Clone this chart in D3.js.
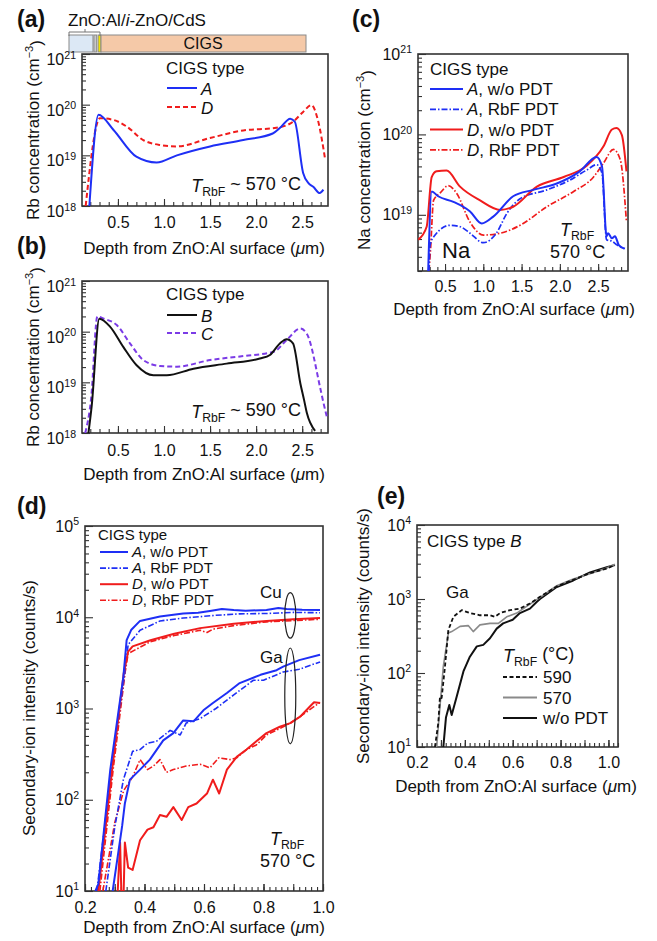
<!DOCTYPE html>
<html>
<head>
<meta charset="utf-8">
<script src="https://cdn.jsdelivr.net/npm/d3@7"></script>
<style>
  body { margin: 0; background: #fff; }
  svg text { font-family: "Liberation Sans", Arial, sans-serif; fill: #111; }
</style>
</head>
<body>
<script>
// ---------- data (depth in um, value) ----------
// (a) Rb concentration, T_RbF ~ 570 C
var rbTypeA = [[0.19,1.0e18],[0.29,6.3e19],[0.45,3.2e19],[0.70,9.4e18],[0.92,7.2e18],[1.14,1.0e19],[1.50,1.5e19],[1.86,2.0e19],[2.18,2.7e19],[2.26,3.5e19],[2.37,5.3e19],[2.42,4.6e19],[2.51,4.5e18],[2.57,2.8e18],[2.62,2.4e18],[2.69,1.8e18],[2.73,2.1e18]];
var rbTypeD = [[0.15,1.0e18],[0.305,5.4e19],[0.45,5.0e19],[0.595,3.7e19],[0.775,2.0e19],[0.957,1.6e19],[1.14,1.5e19],[1.50,2.2e19],[1.86,3.1e19],[2.22,3.5e19],[2.40,4.6e19],[2.51,7.2e19],[2.60,9.8e19],[2.67,5.0e19],[2.75,8.1e18]];
// (b) Rb concentration, T_RbF ~ 590 C
var rbTypeB = [[0.18,1.0e18],[0.215,3.4e18],[0.298,1.8e20],[0.414,1.26e20],[0.558,5.0e19],[0.70,2.2e19],[0.885,1.38e19],[1.03,1.38e19],[1.32,1.86e19],[1.68,2.34e19],[2.04,2.95e19],[2.15,3.47e19],[2.26,5.9e19],[2.33,7.1e19],[2.40,5.9e19],[2.48,9.5e18],[2.52,4.5e18],[2.55,2.5e18],[2.64,1.1e18]];
var rbTypeC = [[0.145,1.0e18],[0.21,5.0e18],[0.277,2.0e20],[0.34,1.82e20],[0.487,1.35e20],[0.63,5.9e19],[0.776,2.75e19],[0.957,2.1e19],[1.14,2.04e19],[1.50,2.75e19],[1.86,3.3e19],[2.19,4.0e19],[2.33,6.8e19],[2.48,1.15e20],[2.55,9.1e19],[2.70,7.1e18],[2.73,4.0e18],[2.77,2.0e18]];
// (c) Na concentration
var naAwo = [[0.28,2.0e18],[0.326,1.95e19],[0.41,1.7e19],[0.61,1.45e19],[0.827,1.1e19],[0.98,7.8e18],[1.13,9.5e18],[1.39,1.7e19],[1.65,2.04e19],[1.96,2.45e19],[2.26,3.47e19],[2.48,5.25e19],[2.55,4.0e19],[2.61,5.4e18],[2.63,5.9e18],[2.68,5.1e18],[2.72,5.4e18],[2.77,4.2e18],[2.84,3.8e18]];
var naArbf = [[0.29,2.0e18],[0.304,4.2e18],[0.37,5.6e18],[0.565,7.4e18],[0.70,7.1e18],[0.827,5.9e18],[1.0,4.5e18],[1.17,5.9e18],[1.31,1.05e19],[1.48,1.58e19],[1.83,2.04e19],[2.13,2.7e19],[2.35,3.6e19],[2.48,4.2e19],[2.55,3.3e19],[2.61,4.9e18],[2.68,4.7e18],[2.75,4.2e18],[2.85,3.8e18]];
var naDwo = [[0.15,4.9e18],[0.26,7.1e18],[0.326,2.95e19],[0.39,3.47e19],[0.52,3.55e19],[0.696,2.24e19],[0.958,1.51e19],[1.22,1.15e19],[1.39,1.26e19],[1.70,2.24e19],[2.05,2.95e19],[2.35,4.07e19],[2.57,7.1e19],[2.68,1.15e20],[2.74,1.2e20],[2.81,9.8e19],[2.87,3.47e19]];
var naDrbf = [[0.29,2.0e18],[0.31,3.6e18],[0.35,1.51e19],[0.435,1.86e19],[0.543,2.3e19],[0.65,1.86e19],[0.827,8.1e18],[1.0,5.6e18],[1.22,5.9e18],[1.48,7.4e18],[1.83,1.26e19],[2.18,1.95e19],[2.44,2.95e19],[2.57,4.4e19],[2.70,6.5e19],[2.79,4.8e19],[2.87,8.1e18]];
// (d) secondary-ion intensity, Cu and Ga
var cuAwo = [[0.235,10],[0.245,12],[0.285,214],[0.329,2240],[0.34,5620],[0.355,7240],[0.385,9120],[0.452,10200],[0.53,11000],[0.58,11200],[0.62,11700],[0.66,12300],[0.70,12000],[0.74,11800],[0.81,12000],[0.85,12600],[0.878,12300],[0.93,12100],[0.99,12000]];
var cuArbf = [[0.24,10],[0.29,230],[0.334,2500],[0.345,5000],[0.385,7200],[0.452,9100],[0.53,9800],[0.64,10500],[0.72,10900],[0.81,11000],[0.90,11300],[0.99,11200]];
var cuDwo = [[0.245,10],[0.29,200],[0.33,2400],[0.345,4200],[0.36,4800],[0.42,5600],[0.50,6600],[0.587,7600],[0.70,8500],[0.81,9100],[0.90,9500],[0.99,9800]];
var cuDrbf = [[0.25,10],[0.295,220],[0.335,2500],[0.345,4000],[0.42,5400],[0.50,6300],[0.587,7200],[0.61,6800],[0.63,7400],[0.70,8100],[0.81,8900],[0.99,9500]];
var gaAwo = [[0.293,10],[0.31,24],[0.325,52],[0.334,91],[0.351,166],[0.385,214],[0.418,275],[0.463,447],[0.497,537],[0.53,741],[0.565,724],[0.598,955],[0.63,1150],[0.677,1480],[0.72,1900],[0.79,2340],[0.844,2630],[0.866,2880],[0.92,3390],[0.99,3890]];
var gaArbf = [[0.27,10],[0.30,50],[0.329,166],[0.36,339],[0.385,355],[0.41,417],[0.44,437],[0.486,575],[0.52,513],[0.54,692],[0.587,776],[0.64,1000],[0.70,1410],[0.766,2040],[0.80,2040],[0.866,2510],[0.92,2690],[0.99,3240]];
var gaDwo = [[0.31,10],[0.318,34],[0.322,10],[0.33,10],[0.334,34],[0.345,18],[0.36,17],[0.385,36],[0.41,47],[0.43,50],[0.452,68],[0.474,65],[0.497,83],[0.525,60],[0.547,83],[0.575,91],[0.61,117],[0.63,166],[0.651,117],[0.677,214],[0.71,295],[0.743,355],[0.776,437],[0.81,537],[0.855,631],[0.89,692],[0.923,813],[0.956,1050],[0.97,1170],[0.99,1150]];
var gaDrbf = [[0.26,10],[0.30,56],[0.33,126],[0.36,178],[0.385,275],[0.41,214],[0.43,234],[0.452,275],[0.474,200],[0.497,214],[0.54,234],[0.587,245],[0.62,224],[0.65,288],[0.69,275],[0.71,288],[0.743,355],[0.776,398],[0.81,513],[0.855,603],[0.89,692],[0.923,813],[0.99,1170]];
// (e) Ga, CIGS type B
var gaB590 = [[0.275,10],[0.289,21],[0.296,48],[0.303,46],[0.317,123],[0.331,380],[0.352,575],[0.387,708],[0.421,646],[0.463,603],[0.505,603],[0.526,575],[0.547,646],[0.589,708],[0.63,741],[0.672,871],[0.714,1070],[0.784,1480],[0.853,1820],[0.923,2240],[0.993,2570],[1.027,2880]];
var gaB570 = [[0.282,10],[0.296,35],[0.31,123],[0.331,347],[0.345,363],[0.38,427],[0.414,437],[0.435,363],[0.463,447],[0.505,468],[0.54,468],[0.575,575],[0.617,646],[0.658,794],[0.714,1050],[0.784,1510],[0.853,1860],[0.923,2190],[0.993,2630],[1.027,2950]];
var gaBwo = [[0.31,10],[0.321,25],[0.335,37],[0.345,27],[0.366,48],[0.394,105],[0.421,166],[0.45,229],[0.477,240],[0.505,295],[0.533,398],[0.56,468],[0.60,525],[0.63,646],[0.672,741],[0.70,912],[0.714,1000],[0.784,1450],[0.853,1780],[0.923,2290],[0.993,2690],[1.027,2880]];

// tick labels
var xLabelsLong = [0.5, 1.0, 1.5, 2.0, 2.5];
var xLabelsShort = [0.2, 0.4, 0.6, 0.8, 1.0];
// layer stack drawn over panel (a): [start, end, fill]
var layers = [[0, 0.26, "#dce8f5"], [0.27, 0.30, "#c9c9c9"], [0.315, 0.347, "#f2e400"], [0.347, 2.57, "#f5c9a8"]];

// ---------- styles ----------
var BLUE = "#1e2ff5", RED = "#f01c1c", PURPLE = "#7b3be6", GRAY = "#8a8a8a";
var DASH = "5,3", DASHDOT = "6,2,1.5,2";

var svg = d3.select("body").append("svg").attr("width", 657).attr("height", 941);

function panel(o) {
  var x = d3.scaleLinear().domain(o.xDomain).range(o.xRange);
  var y = d3.scaleLog().domain(o.yDomain).range(o.yRange);
  var g = svg.append("g");

  svg.append("clipPath").attr("id", "clip" + o.name).append("rect")
    .attr("x", o.xRange[0]).attr("y", o.yRange[1])
    .attr("width", o.xRange[1] - o.xRange[0]).attr("height", o.yRange[0] - o.yRange[1]);

  // log minor/major ticks on the left, pointing inward
  var lo = Math.log10(o.yDomain[0]), hi = Math.log10(o.yDomain[1]);
  var majors = d3.range(Math.ceil(lo - 1e-9), Math.floor(hi + 1e-9) + 1).map(function(e) { return Math.pow(10, e); });
  var minors = [];
  for (var e = Math.floor(lo); e < hi; e++) {
    for (var k = 2; k < 10; k++) {
      var v = k * Math.pow(10, e);
      if (v >= o.yDomain[0] * 0.999 && v <= o.yDomain[1]) minors.push(v);
    }
  }
  g.append("g").attr("transform", "translate(" + o.xRange[0] + ",0)")
    .call(d3.axisLeft(y).tickValues(minors).tickSize(-4).tickFormat(""));
  var yAx = g.append("g").attr("transform", "translate(" + o.xRange[0] + ",0)")
    .call(d3.axisLeft(y).tickValues(majors).tickSize(-8).tickPadding(6));
  yAx.attr("font-size", o.fs).attr("font-family", null);
  yAx.selectAll(".tick text").each(function(d) {
    var t = d3.select(this);
    t.text(null).attr("dy", o.yLabDy || "0.32em");
    t.append("tspan").text("10");
    t.append("tspan").attr("dy", "-0.6em").attr("font-size", "0.66em").text(Math.round(Math.log10(d)));
  });

  // x ticks
  g.append("g").attr("transform", "translate(0," + o.yRange[0] + ")")
    .call(d3.axisBottom(x).tickValues(o.xMinor).tickSize(-4).tickFormat(""));
  if (o.xMid) {
    g.append("g").attr("transform", "translate(0," + o.yRange[0] + ")")
      .call(d3.axisBottom(x).tickValues(o.xMid).tickSize(-7).tickFormat(""));
  }
  var xAx = g.append("g").attr("transform", "translate(0," + o.yRange[0] + ")")
    .call(d3.axisBottom(x).tickValues(o.xLabels).tickSize(-7).tickPadding(o.xPad).tickFormat(d3.format(".1f")));
  xAx.attr("font-size", o.fs).attr("font-family", null);

  g.selectAll(".domain").remove();
  g.selectAll(".tick line").attr("stroke", "#333").attr("stroke-width", 1.1);

  g.append("rect")
    .attr("x", o.xRange[0]).attr("y", o.yRange[1])
    .attr("width", o.xRange[1] - o.xRange[0]).attr("height", o.yRange[0] - o.yRange[1])
    .attr("fill", "none").attr("stroke", "#333").attr("stroke-width", 1.6);

  var plot = g.append("g").attr("clip-path", "url(#clip" + o.name + ")");
  o.series.forEach(function(s) {
    var line = d3.line().x(function(d) { return x(d[0]); }).y(function(d) { return y(d[1]); })
      .curve(o.smooth ? d3.curveMonotoneX : d3.curveLinear);
    plot.append("path").datum(s.data)
      .attr("d", line)
      .attr("fill", "none")
      .attr("stroke", s.color)
      .attr("stroke-width", s.w || 2)
      .attr("stroke-dasharray", s.dash || null)
      .attr("stroke-linejoin", "round");
  });

  // axis titles
  var xt = svg.append("text").attr("x", o.xTitle[0]).attr("y", o.xTitle[1])
    .attr("text-anchor", "middle").attr("font-size", 17);
  xt.append("tspan").text("Depth from ZnO:Al surface (");
  xt.append("tspan").attr("font-style", "italic").text("\u03bc");
  xt.append("tspan").text("m)");

  var yt = svg.append("text")
    .attr("transform", "translate(" + o.yTitle[0] + "," + o.yTitle[1] + ") rotate(-90)")
    .attr("text-anchor", "middle").attr("font-size", 17);
  if (o.yUnit === "conc") {
    yt.append("tspan").text(o.yText + " concentration (cm");
    yt.append("tspan").attr("dy", "-0.55em").attr("font-size", "0.65em").text("\u22123");
    yt.append("tspan").attr("dy", "0.55em").text(")");
  } else {
    yt.text("Secondary-ion intensity (counts/s)");
  }

  svg.append("text").attr("x", o.label[0]).attr("y", o.label[1])
    .attr("font-size", 23).attr("font-weight", "bold").text(o.label[2]);

  return { x: x, y: y, g: g };
}

function legendLine(x1, x2, y, color, dash, w) {
  svg.append("line").attr("x1", x1).attr("x2", x2).attr("y1", y).attr("y2", y)
    .attr("stroke", color).attr("stroke-width", w || 2).attr("stroke-dasharray", dash || null);
}
function legendText(x, y, fs, italic, rest) {
  var t = svg.append("text").attr("x", x).attr("y", y).attr("font-size", fs);
  t.append("tspan").attr("font-style", "italic").text(italic);
  if (rest) t.append("tspan").text(rest);
  return t;
}
function tRbf(x, y, fs, rest, anchor) {
  var t = svg.append("text").attr("x", x).attr("y", y).attr("font-size", fs).attr("text-anchor", anchor || "start");
  t.append("tspan").attr("font-style", "italic").text("T");
  t.append("tspan").attr("font-size", "0.68em").attr("dy", "0.3em").text("RbF");
  if (rest) t.append("tspan").attr("dy", "-0.3em").text(rest);
  return t;
}

var minorLong = d3.range(2, 28).map(function(i) { return i / 10; });
var minorLongC = d3.range(2, 29).map(function(i) { return i / 10; });
var minorShort = d3.range(10, 51).map(function(i) { return i / 50; });
var midShort = d3.range(2, 11).map(function(i) { return i / 10; });

// ---------- (a) ----------
// layer stack above panel (a), drawn first so the axis labels sit on top
var layerX = d3.scaleLinear().domain([0, 2.57]).range([69, 306]);
svg.selectAll("rect.layer").data(layers).enter().append("rect").attr("class", "layer")
  .attr("x", function(d) { return layerX(d[0]); })
  .attr("width", function(d) { return layerX(d[1]) - layerX(d[0]); })
  .attr("y", 35).attr("height", 17)
  .attr("fill", function(d) { return d[2]; })
  .attr("stroke", "#8a8a8a").attr("stroke-width", 1);
svg.append("text").attr("x", 203).attr("y", 49).attr("text-anchor", "middle").attr("font-size", 16).text("CIGS");
svg.append("path").attr("d", "M69,36V32H100V36M85,32V29").attr("fill", "none").attr("stroke", "#777").attr("stroke-width", 1);
var lt = svg.append("text").attr("x", 68).attr("y", 26).attr("font-size", 17);
lt.append("tspan").text("ZnO:Al/");
lt.append("tspan").attr("font-style", "italic").text("i");
lt.append("tspan").text("-ZnO/CdS");

panel({
  name: "a", xDomain: [0.11, 2.78], xRange: [82, 328], yDomain: [1e18, 1e21], yRange: [206, 54],
  xLabels: xLabelsLong, xMinor: minorLong, xPad: 11, fs: 16, smooth: true, yLabDy: "0.65em",
  xTitle: [204, 254], yTitle: [39, 130], yUnit: "conc", yText: "Rb", label: [17, 27, "(a)"],
  series: [
    { data: rbTypeD, color: RED, dash: DASH },
    { data: rbTypeA, color: BLUE }
  ]
});
svg.append("text").attr("x", 166).attr("y", 74).attr("font-size", 17).text("CIGS type");
legendLine(167, 197, 88, BLUE);
legendText(201, 95, 17, "A");
legendLine(167, 197, 107, RED, DASH);
legendText(201, 114, 17, "D");
tRbf(301, 192, 18, " ~ 570 \u00b0C", "end");

// ---------- (b) ----------
panel({
  name: "b", xDomain: [0.11, 2.78], xRange: [82, 328], yDomain: [1e18, 1e21], yRange: [433, 281],
  xLabels: xLabelsLong, xMinor: minorLong, xPad: 12, fs: 16, smooth: true, yLabDy: "0.65em",
  xTitle: [204, 480], yTitle: [39, 357], yUnit: "conc", yText: "Rb", label: [17, 254, "(b)"],
  series: [
    { data: rbTypeC, color: PURPLE, dash: DASH },
    { data: rbTypeB, color: "#111" }
  ]
});
svg.append("text").attr("x", 166).attr("y", 300).attr("font-size", 17).text("CIGS type");
legendLine(167, 197, 315, "#111");
legendText(201, 322, 17, "B");
legendLine(167, 197, 333, PURPLE, DASH);
legendText(201, 340, 17, "C");
tRbf(301, 418, 18, " ~ 590 \u00b0C", "end");

// ---------- (c) ----------
panel({
  name: "c", xDomain: [0.147, 2.89], xRange: [418, 628], yDomain: [2e18, 1e21], yRange: [271, 54],
  xLabels: xLabelsLong, xMinor: minorLongC, xPad: 10, fs: 16, smooth: true,
  xTitle: [514, 315], yTitle: [370, 160], yUnit: "conc", yText: "Na", label: [352, 27, "(c)"],
  series: [
    { data: naDrbf, color: RED, dash: DASHDOT, w: 1.7 },
    { data: naArbf, color: BLUE, dash: DASHDOT, w: 1.7 },
    { data: naDwo, color: RED },
    { data: naAwo, color: BLUE }
  ]
});
svg.append("text").attr("x", 430).attr("y", 75).attr("font-size", 17).text("CIGS type");
[["A", ", w/o PDT", BLUE, null], ["A", ", RbF PDT", BLUE, DASHDOT], ["D", ", w/o PDT", RED, null], ["D", ", RbF PDT", RED, DASHDOT]]
  .forEach(function(r, i) {
    var yy = 89 + i * 20.3;
    legendLine(430, 463, yy, r[2], r[3], r[3] ? 1.7 : 2);
    legendText(467, yy + 6, 17, r[0], r[1]);
  });
svg.append("text").attr("x", 442).attr("y", 258).attr("font-size", 22).text("Na");
tRbf(560, 236, 18);
svg.append("text").attr("x", 550).attr("y", 258).attr("font-size", 18).text("570 \u00b0C");

// ---------- (d) ----------
var pd = panel({
  name: "d", xDomain: [0.2, 1.0], xRange: [85, 323], yDomain: [10, 1e5], yRange: [891, 526],
  xLabels: xLabelsShort, xMinor: minorShort, xMid: midShort, xPad: 11, fs: 16, smooth: false,
  xTitle: [204, 933], yTitle: [35, 708], yUnit: "int", label: [17, 514, "(d)"],
  series: [
    { data: cuDrbf, color: RED, dash: DASHDOT, w: 1.6 },
    { data: gaDrbf, color: RED, dash: DASHDOT, w: 1.6 },
    { data: cuArbf, color: BLUE, dash: DASHDOT, w: 1.6 },
    { data: gaArbf, color: BLUE, dash: DASHDOT, w: 1.6 },
    { data: cuDwo, color: RED },
    { data: gaDwo, color: RED },
    { data: cuAwo, color: BLUE },
    { data: gaAwo, color: BLUE }
  ]
});
svg.append("text").attr("x", 98).attr("y", 540).attr("font-size", 15).text("CIGS type");
[["A", ", w/o PDT", BLUE, null], ["A", ", RbF PDT", BLUE, DASHDOT], ["D", ", w/o PDT", RED, null], ["D", ", RbF PDT", RED, DASHDOT]]
  .forEach(function(r, i) {
    var yy = 552 + i * 16.1;
    legendLine(100, 128, yy, r[2], r[3], r[3] ? 1.6 : 2);
    legendText(132, yy + 5, 15, r[0], r[1]);
  });
// Cu / Ga ellipses
[[18600, 5900], [4600, 410]].forEach(function(r) {
  var y1 = pd.y(r[0]), y2 = pd.y(r[1]);
  svg.append("ellipse").attr("cx", pd.x(0.89)).attr("cy", (y1 + y2) / 2)
    .attr("rx", 5.5).attr("ry", (y2 - y1) / 2)
    .attr("fill", "none").attr("stroke", "#222").attr("stroke-width", 1.2);
});
svg.append("text").attr("x", 260).attr("y", 598).attr("font-size", 17).text("Cu");
svg.append("text").attr("x", 260).attr("y", 663).attr("font-size", 17).text("Ga");
tRbf(270, 845, 18);
svg.append("text").attr("x", 260).attr("y", 867).attr("font-size", 18).text("570 \u00b0C");

// ---------- (e) ----------
panel({
  name: "e", xDomain: [0.2, 1.04], xRange: [417, 618], yDomain: [10, 1e4], yRange: [747, 525],
  xLabels: xLabelsShort, xMinor: minorShort.concat([1.02, 1.04]), xMid: midShort, xPad: 10, fs: 16, smooth: false,
  xTitle: [516, 792], yTitle: [369, 636], yUnit: "int", label: [377, 504, "(e)"],
  series: [
    { data: gaBwo, color: "#111" },
    { data: gaB570, color: GRAY, w: 1.6 },
    { data: gaB590, color: "#111", dash: "4,2.5", w: 1.8 }
  ]
});
var et = svg.append("text").attr("x", 427).attr("y", 547).attr("font-size", 17);
et.append("tspan").text("CIGS type ");
et.append("tspan").attr("font-style", "italic").text("B");
svg.append("text").attr("x", 446).attr("y", 598).attr("font-size", 17).text("Ga");
tRbf(503, 662, 18, " (\u00b0C)");
[["590", "#111", "4,2.5"], ["570", GRAY, null], ["w/o PDT", "#111", null]].forEach(function(r, i) {
  var yy = 677 + i * 20.5;
  legendLine(503, 537, yy, r[1], r[2], 2);
  svg.append("text").attr("x", 543).attr("y", yy + 6).attr("font-size", 17).text(r[0]);
});
</script>
</body>
</html>
